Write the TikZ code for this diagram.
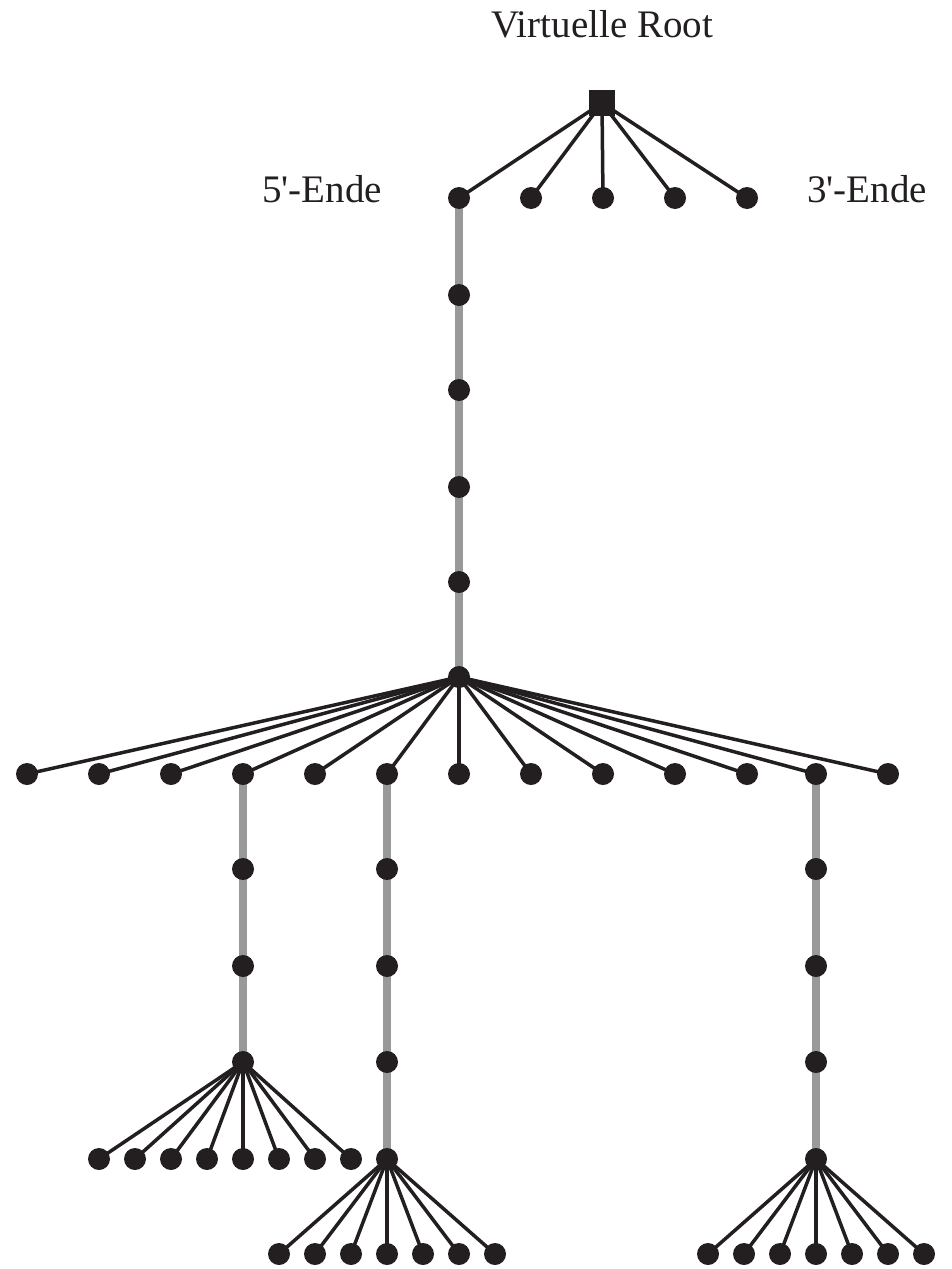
\documentclass[tikz,border=0pt]{standalone}
\usepackage{fontspec}
\setmainfont{Liberation Serif}
\definecolor{dotc}{RGB}{35,31,32}
\definecolor{grayc}{RGB}{153,153,153}
\pgfdeclarelayer{background}
\pgfsetlayers{background,main}
\tikzset{
  dot/.style={circle, fill=dotc, inner sep=0pt, minimum size=11pt},
  rootbox/.style={rectangle, fill=dotc, inner sep=0pt, minimum size=13pt},
  blk/.style={draw=dotc, line width=1.75pt},
  gry/.style={draw=grayc, line width=4pt},
  lbl/.style={font=\fontsize{19.5}{23}\selectfont, anchor=base, inner sep=0pt, text=dotc}
}
\begin{document}
\begin{tikzpicture}[x=0.5pt, y=-0.5pt]
\useasboundingbox (0,0) rectangle (952,1269);
% labels
\node[lbl] (tRoot) at (602,37) {Virtuelle Root};
\node[lbl] (t5) at (322,202) {5\textquotesingle-Ende};
\node[lbl] (t3) at (867,202) {3\textquotesingle-Ende};
% root and first level
\node[rootbox] (r) at (602,103) {};
\foreach \i/\x in {1/459,2/531,3/603,4/675,5/747}
  \node[dot] (a\i) at (\x,198) {};
% main chain
\foreach \i/\y in {1/295,2/390,3/487,4/582}
  \node[dot] (m\i) at (459,\y) {};
\node[dot] (h) at (459,677) {};
% second level
\foreach \k in {1,...,11}
  \node[dot] (b\k) at ({27+72*(\k-1)},774) {};
\node[dot] (b12) at (816,774) {};
\node[dot] (b13) at (888,774) {};
% chain P
\node[dot] (p1) at (243,869) {};
\node[dot] (p2) at (243,966) {};
\node[dot] (ph) at (243,1062) {};
\foreach \k in {1,...,8}
  \node[dot] (pf\k) at ({243+36*(\k-5)},1159) {};
% chain Q
\node[dot] (q1) at (387,869) {};
\node[dot] (q2) at (387,966) {};
\node[dot] (q3) at (387,1062) {};
\node[dot] (qh) at (387,1159) {};
\foreach \k in {1,...,7}
  \node[dot] (qf\k) at ({387+36*(\k-4)},1254) {};
% chain S
\node[dot] (s1) at (816,869) {};
\node[dot] (s2) at (816,966) {};
\node[dot] (s3) at (816,1062) {};
\node[dot] (sh) at (816,1159) {};
\foreach \k in {1,...,7}
  \node[dot] (sf\k) at ({816+36*(\k-4)},1254) {};
% connectors
\begin{pgfonlayer}{background}
  \draw[gry] (a1.center) -- (m1.center) -- (m2.center) -- (m3.center) -- (m4.center) -- (h.center);
  \draw[gry] (b4.center) -- (p1.center) -- (p2.center) -- (ph.center);
  \draw[gry] (b6.center) -- (q1.center) -- (q2.center) -- (q3.center) -- (qh.center);
  \draw[gry] (b12.center) -- (s1.center) -- (s2.center) -- (s3.center) -- (sh.center);
  \foreach \i in {1,...,5} \draw[blk] (r.center) -- (a\i.center);
  \foreach \k in {1,...,13} \draw[blk] (h.center) -- (b\k.center);
  \foreach \k in {1,...,8} \draw[blk] (ph.center) -- (pf\k.center);
  \foreach \k in {1,...,7} \draw[blk] (qh.center) -- (qf\k.center);
  \foreach \k in {1,...,7} \draw[blk] (sh.center) -- (sf\k.center);
\end{pgfonlayer}
\end{tikzpicture}
\end{document}
